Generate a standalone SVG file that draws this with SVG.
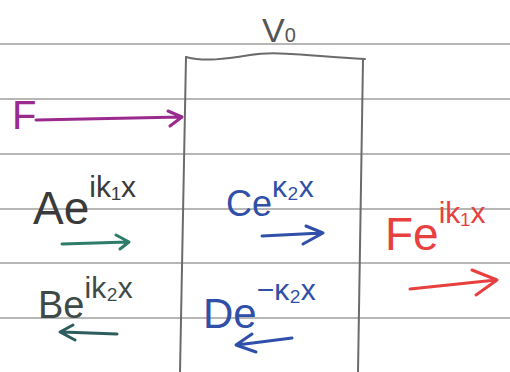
<svg xmlns="http://www.w3.org/2000/svg" width="510" height="372" viewBox="0 0 510 372">
<style>
.rule{stroke:#707070;stroke-width:1.2;fill:none}
.box{stroke:#6b6b6b;stroke-width:2;fill:none;stroke-linecap:round}
.t{font-family:"Liberation Sans","DejaVu Sans",sans-serif}
.arr{fill:none;stroke-width:3;stroke-linecap:round;stroke-linejoin:round}
</style>
<rect width="510" height="372" fill="#ffffff"/>
<g id="paper">
<line class="rule" x1="0" y1="44" x2="510" y2="44"/>
<line class="rule" x1="0" y1="99" x2="510" y2="99"/>
<line class="rule" x1="0" y1="154" x2="510" y2="154"/>
<line class="rule" x1="0" y1="209" x2="510" y2="209"/>
<line class="rule" x1="0" y1="263" x2="510" y2="263"/>
<line class="rule" x1="0" y1="318" x2="510" y2="318"/>
</g>
<g id="barrier">
<path class="box" d="M186,57 C205,62 225,59 250,55 C275,51 300,55 365,59"/>
<path class="box" d="M186,57 L180,372"/>
<path class="box" d="M363,60 L358,372" stroke="#8a7880"/>
<text class="t" x="262" y="42" font-size="34" fill="#555">V<tspan font-size="20">0</tspan></text>
</g>
<g id="incident">
<text class="t" x="12" y="129" font-size="40" fill="#9b2a8f">F</text>
</g>
<g id="A">
<text class="t" x="33" y="224" font-size="46" fill="#3a3a3a">Ae<tspan font-size="30" dy="-27">ik₁x</tspan></text>
</g>
<g id="B">
<text class="t" x="38" y="318" font-size="38" fill="#3e4a48">Be<tspan font-size="30" dy="-20">ik₂x</tspan></text>
</g>
<g id="C">
<text class="t" x="226" y="216" font-size="36" fill="#2f4fa8">Ce<tspan font-size="30" dy="-19">κ₂x</tspan></text>
</g>
<g id="D">
<text class="t" x="203" y="328" font-size="42" fill="#2f4fa8">De<tspan font-size="30" dy="-28">−κ₂x</tspan></text>
</g>
<g id="F">
<text class="t" x="385" y="250" font-size="46" fill="#e8403f">Fe<tspan font-size="30" dy="-27">ik₁x</tspan></text>
</g>
<g id="connectors">
<path class="arr" stroke="#9b2a8f" d="M36,120 L181,117 M168,111 L182,117 L170,126"/>
<path class="arr" stroke="#2e7d6b" d="M62,244 L128,242 M116,235 L129,242 L120,249"/>
<path class="arr" stroke="#2e5d5e" d="M117,334 L62,332 M73,325 L60,332 L75,340"/>
<path class="arr" stroke="#2f4fa8" d="M262,236 L322,233 M306,226 L323,233 L303,244"/>
<path class="arr" stroke="#2f4fa8" d="M292,338 L237,345 M252,334 L236,345 L256,352"/>
<path class="arr" stroke="#e8403f" d="M410,289 L496,280 M472,270 L497,280 L476,295"/>
</g>
</svg>
